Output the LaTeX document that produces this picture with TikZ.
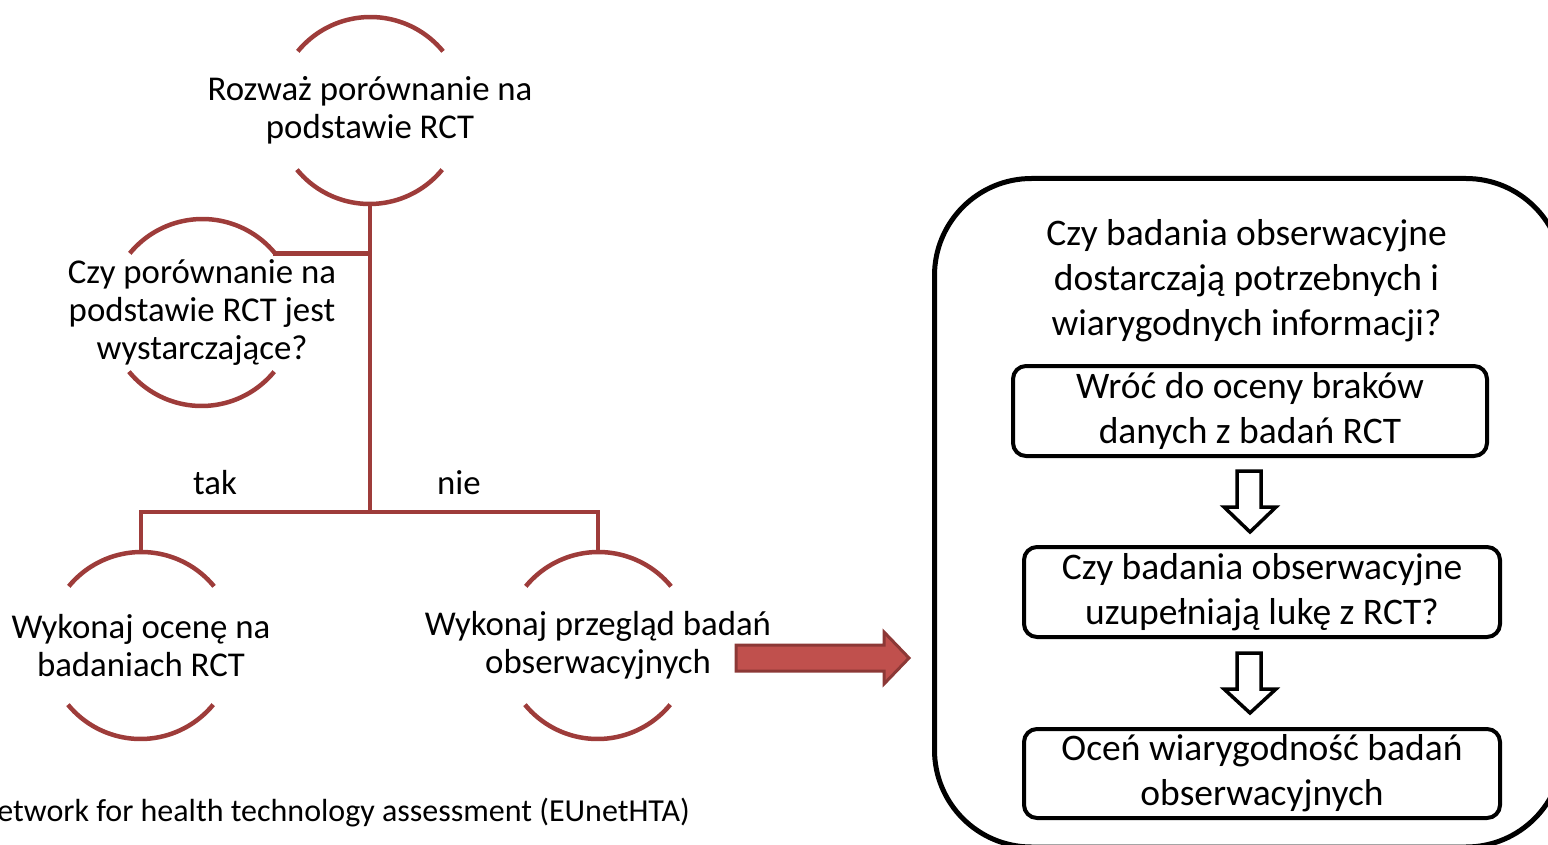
\documentclass[tikz,border=0pt]{standalone}
\usepackage{fontspec}
\setmainfont{Carlito}
\usetikzlibrary{calc}
\definecolor{arcred}{RGB}{158,60,58}
\definecolor{arrfill}{RGB}{192,80,77}
\definecolor{arrline}{RGB}{140,56,54}
\begin{document}
\begin{tikzpicture}[x=1pt,y=1pt,
  ring/.style={circle,draw=none,inner sep=0pt,outer sep=0pt,minimum size=188pt},
  ltxt/.style={align=center,inner sep=0pt,font=\fontsize{34.8}{38}\selectfont},
  rtxt/.style={align=center,inner sep=0pt,font=\fontsize{37.5}{45}\selectfont},
  arcline/.style={draw=arcred,line width=4.5pt},
  conn/.style={draw=arcred,line width=4.5pt},
  blackbox/.style={draw=black,line width=4pt,rounded corners=13pt},
  hollow/.style={draw=black,fill=white,line width=3.5pt,line join=miter},
]
\useasboundingbox (0,0) rectangle (1548,-845);

% ring nodes
\node[ring] (n1) at (370,-110.5) {};
\node[ring] (n2) at (202,-312.5) {};
\node[ring] (n3) at (141,-645.5) {};
\node[ring] (n4) at (598,-645.5) {};
\foreach \n in {n1,n2,n3,n4}{
  \draw[arcline] (\n.39.4) arc[start angle=39.4,end angle=140.6,radius=94pt];
  \draw[arcline] (\n.219.4) arc[start angle=219.4,end angle=320.6,radius=94pt];
}
\node[ltxt] (t1) at (n1) {Rozważ porównanie na\\podstawie RCT};
\node[ltxt] (t2) at (n2) {Czy porównanie na\\podstawie RCT jest\\wystarczające?};
\node[ltxt] (t3) at (n3) {Wykonaj ocenę na\\badaniach RCT};
\node[ltxt] (t4) at (n4) {Wykonaj przegląd badań\\obserwacyjnych};

% connectors
\coordinate (j) at (370,-512);
\draw[conn] (n1.south) -- (j);
\draw[conn] ($(n2.39.4)+(-2,0)$) -- (n2.39.4 -| n1.south);
\draw[conn] (n3.north) |- (j) -| (n4.north);
\node[ltxt] (tak) at (215,-483) {tak};
\node[ltxt] (nie) at (459,-483) {nie};

\node[ltxt,anchor=east,font=\fontsize{32}{38}\selectfont] (src) at (690,-813) {etwork for health technology assessment (EUnetHTA)};

% red block arrow
\draw[fill=arrfill,draw=arrline,line width=3pt,line join=miter]
  (736,-645) -- (884,-645) -- (884,-632) -- (909,-658) -- (884,-684) -- (884,-671) -- (736,-671) -- cycle;

% big rounded box
\draw[draw=black,line width=5pt,rounded corners=97pt] (934.5,-178.5) rectangle (1563,-847);
\node[rtxt] (q) at (1246.5,-281) {Czy badania obserwacyjne\\dostarczają potrzebnych i\\wiarygodnych informacji?};

\node[blackbox,rtxt,minimum width=474pt,minimum height=90pt] (b1) at (1250,-411) {Wróć do oceny braków\\danych z badań RCT};
\node[blackbox,rtxt,minimum width=476pt,minimum height=90pt] (b2) at (1262,-592) {Czy badania obserwacyjne\\uzupełniają lukę z RCT?};
\node[blackbox,rtxt,minimum width=476pt,minimum height=89pt] (b3) at (1262,-773.5) {Oceń wiarygodność badań\\obserwacyjnych};

% hollow arrows
\draw[hollow] (1237,-471) -- (1261,-471) -- (1261,-507) -- (1276,-507) -- (1250,-532) -- (1224,-507) -- (1237,-507) -- cycle;
\draw[hollow] (1237,-653) -- (1261,-653) -- (1261,-689) -- (1276,-689) -- (1250,-713) -- (1224,-689) -- (1237,-689) -- cycle;
\end{tikzpicture}
\end{document}
